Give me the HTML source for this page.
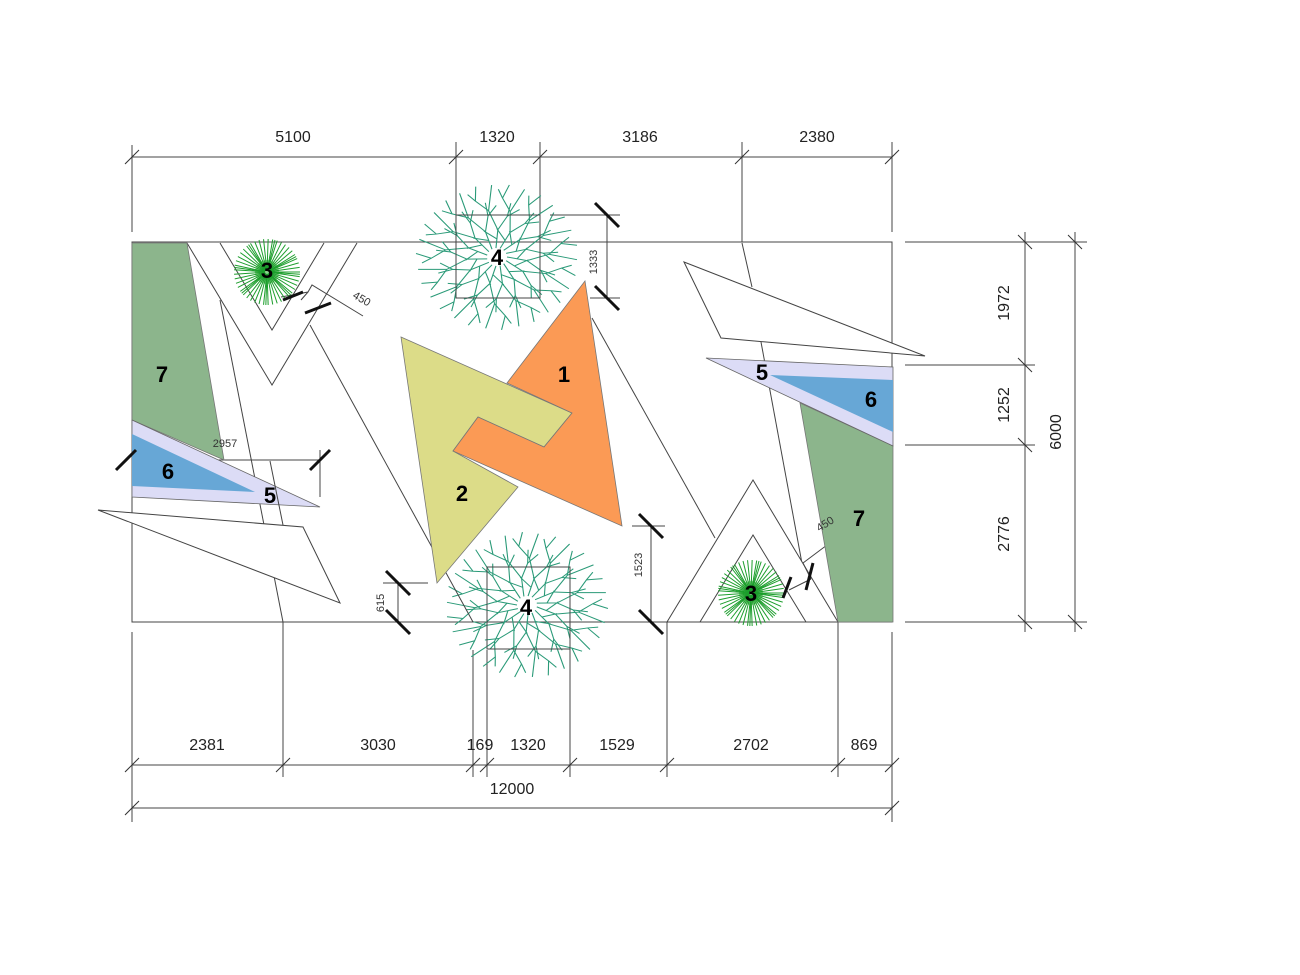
<!DOCTYPE html>
<html><head><meta charset="utf-8"><style>
html,body{margin:0;padding:0;background:#fff;}
svg{display:block;}
text{font-family:"Liberation Sans",sans-serif;}
</style></head><body>
<svg width="1300" height="975" viewBox="0 0 1300 975" xmlns="http://www.w3.org/2000/svg">
<defs>
<g id="br" stroke="#2a9a78" stroke-width="1.1" fill="none">
 <path d="M10 0 L30 4 L52 -3 L80 3"/>
 <path d="M30 4 L44 15 L58 20"/>
 <path d="M52 -3 L64 -15 L72 -22"/>
 <path d="M44 15 L50 28"/>
 <path d="M64 -15 L80 -13"/>
 <path d="M20 2 L30 -10"/>
</g>
<g id="tree">
 <use href="#br" transform="rotate(0)"/><use href="#br" transform="rotate(24)"/><use href="#br" transform="rotate(48)"/>
 <use href="#br" transform="rotate(72)"/><use href="#br" transform="rotate(96)"/><use href="#br" transform="rotate(120)"/>
 <use href="#br" transform="rotate(144)"/><use href="#br" transform="rotate(168)"/><use href="#br" transform="rotate(192)"/>
 <use href="#br" transform="rotate(216)"/><use href="#br" transform="rotate(240)"/><use href="#br" transform="rotate(264)"/>
 <use href="#br" transform="rotate(288)"/><use href="#br" transform="rotate(312)"/><use href="#br" transform="rotate(336)"/>
</g>
<g id="sl"><line x1="2" y1="0" x2="33" y2="0" stroke="#1c9e2c" stroke-width="1"/></g>
<g id="shrub">
 <circle r="12" fill="#8fd48f"/>
 <use href="#sl" transform="rotate(0)"/><use href="#sl" transform="rotate(8)"/><use href="#sl" transform="rotate(16)"/><use href="#sl" transform="rotate(24)"/>
 <use href="#sl" transform="rotate(32)"/><use href="#sl" transform="rotate(40)"/><use href="#sl" transform="rotate(48)"/><use href="#sl" transform="rotate(56)"/>
 <use href="#sl" transform="rotate(64)"/><use href="#sl" transform="rotate(72)"/><use href="#sl" transform="rotate(80)"/><use href="#sl" transform="rotate(88)"/>
 <use href="#sl" transform="rotate(96)"/><use href="#sl" transform="rotate(104)"/><use href="#sl" transform="rotate(112)"/><use href="#sl" transform="rotate(120)"/>
 <use href="#sl" transform="rotate(128)"/><use href="#sl" transform="rotate(136)"/><use href="#sl" transform="rotate(144)"/><use href="#sl" transform="rotate(152)"/>
 <use href="#sl" transform="rotate(160)"/><use href="#sl" transform="rotate(168)"/><use href="#sl" transform="rotate(176)"/><use href="#sl" transform="rotate(184)"/>
 <use href="#sl" transform="rotate(192)"/><use href="#sl" transform="rotate(200)"/><use href="#sl" transform="rotate(208)"/><use href="#sl" transform="rotate(216)"/>
 <use href="#sl" transform="rotate(224)"/><use href="#sl" transform="rotate(232)"/><use href="#sl" transform="rotate(240)"/><use href="#sl" transform="rotate(248)"/>
 <use href="#sl" transform="rotate(256)"/><use href="#sl" transform="rotate(264)"/><use href="#sl" transform="rotate(272)"/><use href="#sl" transform="rotate(280)"/>
 <use href="#sl" transform="rotate(288)"/><use href="#sl" transform="rotate(296)"/><use href="#sl" transform="rotate(304)"/><use href="#sl" transform="rotate(312)"/>
 <use href="#sl" transform="rotate(320)"/><use href="#sl" transform="rotate(328)"/><use href="#sl" transform="rotate(336)"/><use href="#sl" transform="rotate(344)"/>
 <use href="#sl" transform="rotate(352)"/><use href="#sl" transform="rotate(4)"/><use href="#sl" transform="rotate(44)"/><use href="#sl" transform="rotate(92)"/>
 <use href="#sl" transform="rotate(140)"/><use href="#sl" transform="rotate(188)"/><use href="#sl" transform="rotate(236)"/><use href="#sl" transform="rotate(284)"/><use href="#sl" transform="rotate(332)"/>
</g>
<g id="tk"><line x1="-7" y1="7" x2="7" y2="-7" stroke="#333" stroke-width="1"/></g>
<g id="btk"><line x1="-12" y1="-12" x2="12" y2="12" stroke="#111" stroke-width="3"/></g>
</defs>

<g fill="none" stroke="#444" stroke-width="1">
 <line x1="132" y1="157" x2="892" y2="157"/>
 <line x1="132" y1="145" x2="132" y2="232"/>
 <line x1="456" y1="142" x2="456" y2="215"/>
 <line x1="540" y1="142" x2="540" y2="215"/>
 <line x1="742" y1="142" x2="742" y2="243"/>
 <line x1="892" y1="142" x2="892" y2="232"/>
 <line x1="132" y1="765" x2="892" y2="765"/>
 <line x1="132" y1="808" x2="892" y2="808"/>
 <line x1="132" y1="632" x2="132" y2="822"/>
 <line x1="892" y1="632" x2="892" y2="822"/>
 <line x1="283" y1="622" x2="283" y2="777"/>
 <line x1="473" y1="650" x2="473" y2="777"/>
 <line x1="487" y1="650" x2="487" y2="777"/>
 <line x1="570" y1="649" x2="570" y2="777"/>
 <line x1="667" y1="622" x2="667" y2="777"/>
 <line x1="838" y1="622" x2="838" y2="777"/>
 <line x1="1025" y1="232" x2="1025" y2="632"/>
 <line x1="1075" y1="232" x2="1075" y2="632"/>
 <line x1="905" y1="242" x2="1087" y2="242"/>
 <line x1="905" y1="365" x2="1035" y2="365"/>
 <line x1="905" y1="445" x2="1035" y2="445"/>
 <line x1="905" y1="622" x2="1087" y2="622"/>
</g>
<g>
 <use href="#tk" x="132" y="157"/><use href="#tk" x="456" y="157"/><use href="#tk" x="540" y="157"/><use href="#tk" x="742" y="157"/><use href="#tk" x="892" y="157"/>
 <use href="#tk" x="132" y="765"/><use href="#tk" x="283" y="765"/><use href="#tk" x="473" y="765"/><use href="#tk" x="487" y="765"/><use href="#tk" x="570" y="765"/><use href="#tk" x="667" y="765"/><use href="#tk" x="838" y="765"/><use href="#tk" x="892" y="765"/>
 <use href="#tk" x="132" y="808"/><use href="#tk" x="892" y="808"/>
 <g transform="translate(1025,242) rotate(90)"><use href="#tk"/></g>
 <g transform="translate(1025,365) rotate(90)"><use href="#tk"/></g>
 <g transform="translate(1025,445) rotate(90)"><use href="#tk"/></g>
 <g transform="translate(1025,622) rotate(90)"><use href="#tk"/></g>
 <g transform="translate(1075,242) rotate(90)"><use href="#tk"/></g>
 <g transform="translate(1075,622) rotate(90)"><use href="#tk"/></g>
</g>
<g font-size="16" fill="#222" text-anchor="middle">
 <text x="293" y="142">5100</text><text x="497" y="142">1320</text><text x="640" y="142">3186</text><text x="817" y="142">2380</text>
 <text x="207" y="750">2381</text><text x="378" y="750">3030</text><text x="480" y="750">169</text><text x="528" y="750">1320</text><text x="617" y="750">1529</text><text x="751" y="750">2702</text><text x="864" y="750">869</text>
 <text x="512" y="794">12000</text>
 <text transform="translate(1009,303) rotate(-90)">1972</text>
 <text transform="translate(1009,405) rotate(-90)">1252</text>
 <text transform="translate(1009,534) rotate(-90)">2776</text>
 <text transform="translate(1061,432) rotate(-90)">6000</text>
</g>

<rect x="132" y="242" width="760" height="380" fill="#fff" stroke="#444" stroke-width="1"/>

<g transform="translate(497,257) scale(1,0.9)"><use href="#tree"/></g>
<g transform="translate(527,605) scale(1,0.9) rotate(12)"><use href="#tree"/></g>
<rect x="456" y="215" width="84" height="83" fill="none" stroke="#444"/>
<rect x="487" y="567" width="83" height="82" fill="none" stroke="#444"/>

<g fill="none" stroke="#444" stroke-width="1">
 <polyline points="187,243 272,385 357,243"/>
 <polyline points="220,243 272,330 324,243"/>
 <line x1="220" y1="300" x2="283" y2="622"/>
 <line x1="310" y1="325" x2="473" y2="622"/>
 <line x1="742" y1="243" x2="752" y2="287"/>
 <line x1="761" y1="342" x2="806" y2="585"/>
 <line x1="592" y1="318" x2="715" y2="538"/>
 <polygon points="753,480 667,622 838,622" fill="#fff"/>
 <polygon points="753,535 700,622 806,622" fill="#fff"/>
 <polygon points="98,510 303,527 340,603" fill="#fff"/>
 <polygon points="684,262 925,356 721,338" fill="#fff"/>
 <line x1="550" y1="215" x2="620" y2="215"/>
 <line x1="590" y1="298" x2="620" y2="298"/>
 <line x1="607" y1="215" x2="607" y2="298"/>
 <line x1="632" y1="526" x2="665" y2="526"/>
 <line x1="651" y1="526" x2="651" y2="622"/>
 <line x1="383" y1="583" x2="428" y2="583"/>
 <line x1="398" y1="583" x2="398" y2="622"/>
 <line x1="132" y1="460" x2="320" y2="460"/>
 <line x1="320" y1="450" x2="320" y2="497"/>
 <polyline points="281,297 308,292 312,285 363,316"/>
 <polyline points="308,292 301,300"/>
 <polyline points="811,579 803,563 843,533"/>
 <polyline points="789,590 811,579"/>
</g>

<polygon points="132,243 187,243 224,460 132,420" fill="#8cb58c" stroke="#777" stroke-width="0.8"/>
<polygon points="132,420 320,507 132,497" fill="#dcdcf6" stroke="#666" stroke-width="0.8"/>
<polygon points="132,434 255,492 132,486" fill="#67a7d6"/>
<line x1="270" y1="461" x2="283" y2="525" stroke="#444"/>
<polygon points="800,403 893,446 893,622 838,622" fill="#8cb58c" stroke="#777" stroke-width="0.8"/>
<polygon points="706,358 893,367 893,446" fill="#dcdcf6" stroke="#666" stroke-width="0.8"/>
<polygon points="770,375 893,380 893,432" fill="#67a7d6"/>

<polygon points="401,337 572,413 544,447 478,417 453,451 518,487 437,583" fill="#dcdc88" stroke="#777" stroke-width="0.8"/>
<polygon points="585,281 622,526 453,451 478,417 544,447 572,413 507,383" fill="#fb9a55" stroke="#777" stroke-width="0.8"/>

<g transform="translate(267,272)"><use href="#shrub"/></g>
<g transform="translate(751,593)"><use href="#shrub"/></g>

<g>
 <use href="#btk" x="607" y="215"/>
 <use href="#btk" x="607" y="298"/>
 <use href="#btk" x="651" y="526"/>
 <use href="#btk" x="651" y="622"/>
 <use href="#btk" x="398" y="583"/>
 <use href="#btk" x="398" y="622"/>
 <line x1="116" y1="470" x2="136" y2="450" stroke="#111" stroke-width="3"/>
 <line x1="310" y1="470" x2="330" y2="450" stroke="#111" stroke-width="3"/>
 <line x1="283" y1="300" x2="303" y2="292" stroke="#111" stroke-width="3"/>
 <line x1="305" y1="313" x2="331" y2="303" stroke="#111" stroke-width="3"/>
 <line x1="783" y1="598" x2="791" y2="577" stroke="#111" stroke-width="3"/>
 <line x1="806" y1="590" x2="813" y2="563" stroke="#111" stroke-width="3"/>
</g>

<g font-size="11" fill="#333" text-anchor="middle">
 <text transform="translate(597,262) rotate(-90)">1333</text>
 <text transform="translate(642,565) rotate(-90)">1523</text>
 <text transform="translate(384,603) rotate(-90)">615</text>
 <text x="225" y="447">2957</text>
 <text transform="translate(360,302) rotate(30)">450</text>
 <text transform="translate(827,527) rotate(-32)">450</text>
</g>
<g font-size="22" font-weight="bold" fill="#000" text-anchor="middle">
 <text x="564" y="382">1</text>
 <text x="462" y="501">2</text>
 <text x="267" y="278">3</text>
 <text x="751" y="601">3</text>
 <text x="497" y="265">4</text>
 <text x="526" y="615">4</text>
 <text x="270" y="503">5</text>
 <text x="762" y="380">5</text>
 <text x="168" y="479">6</text>
 <text x="871" y="407">6</text>
 <text x="162" y="382">7</text>
 <text x="859" y="526">7</text>
</g>
</svg>
</body></html>
